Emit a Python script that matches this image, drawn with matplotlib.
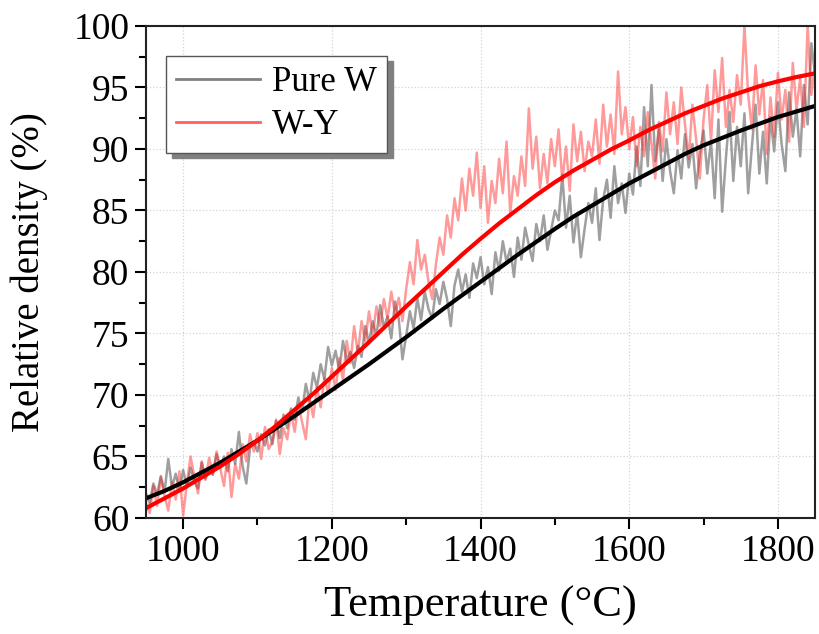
import numpy as np
import matplotlib.pyplot as plt
from matplotlib.ticker import MultipleLocator

plt.rcParams['font.family'] = ['Liberation Serif', 'DejaVu Serif']

# Temperature grid of the raw traces (every 5 C)
temps = np.arange(950, 1851, 5)

# Raw relative density readings
pure_w = [
    62.0, 61.2, 62.8, 61.9, 63.4, 62.1, 64.8, 62.5, 63.6, 62.2,
    63.9, 62.6, 64.1, 63.0, 62.4, 64.5, 63.2, 64.0, 63.5, 65.2,
    64.1, 65.0, 63.8, 65.6, 64.4, 67.0, 64.2, 62.8, 65.7, 66.2,
    65.4, 66.8, 65.9, 67.2, 66.0, 67.9, 66.5, 68.4, 67.3, 68.9,
    68.0, 69.8, 68.6, 70.9, 69.5, 71.8, 70.6, 72.5, 71.3, 73.9,
    72.4, 73.6, 72.0, 74.4, 72.8, 73.5, 72.2, 74.0, 73.1, 75.6,
    74.2, 76.0, 74.8, 77.3, 75.5, 76.4, 74.6, 77.6, 76.2, 72.9,
    74.8, 76.8, 75.4, 77.9, 76.1, 78.4, 77.0, 76.2, 78.6, 77.4,
    79.2, 77.8, 75.6, 78.9, 80.2, 78.4, 79.8, 77.9, 80.7, 79.5,
    81.2, 79.0, 80.4, 78.2, 81.6, 80.1, 82.5, 80.8, 81.9, 79.6,
    82.8, 81.0, 83.6, 82.2, 80.9, 83.9, 82.5, 84.6, 81.8, 83.4,
    85.0, 84.2, 87.9, 83.6, 86.2, 82.4, 84.8, 81.2, 83.5, 85.6,
    84.0, 86.8, 82.6, 85.9, 87.5, 84.4, 88.6, 85.6, 87.2, 84.8,
    88.0, 86.3, 90.2, 87.0, 93.4, 88.6, 95.2, 89.0, 91.6, 87.4,
    90.8, 88.2, 86.4, 89.9, 87.6, 91.2, 88.5, 90.4, 86.8, 89.6,
    91.5, 88.0, 90.6, 86.0, 92.4, 84.9, 89.2, 93.0, 87.4, 91.8,
    88.6, 92.9, 86.4, 90.2, 93.6, 88.0, 91.4, 87.2, 92.6, 89.8,
    93.8, 90.4, 88.2, 94.6, 91.0, 93.2, 89.4, 95.2, 92.0, 98.6,
    96.0,
]
w_y = [
    61.2, 60.4, 62.6, 61.0, 63.3, 61.8, 60.6, 62.9, 61.5, 63.8,
    60.2, 62.8, 65.0, 63.4, 62.0, 64.6, 63.1, 64.9, 63.6, 65.4,
    64.0, 62.6, 65.3, 61.7, 64.4, 63.2, 66.0, 64.6, 66.8, 65.4,
    66.9, 64.8, 67.4, 65.6, 66.2, 68.0, 65.2, 67.3, 66.4, 68.6,
    67.0, 69.2, 67.8, 66.4, 69.8, 68.2, 70.6, 69.0, 71.4, 70.2,
    72.2, 70.4, 73.0, 71.2, 74.4, 72.6, 75.6, 73.4, 76.0, 74.4,
    76.8, 74.8, 77.2, 75.6, 77.8, 76.2, 78.4, 76.6, 77.9, 76.0,
    78.6, 80.8, 79.0, 82.6, 80.2, 81.4, 79.2, 77.8, 80.6, 82.8,
    81.4, 84.6, 82.8, 86.0, 84.2, 87.6, 85.0, 88.4, 86.2, 89.7,
    85.2, 88.6, 84.0, 87.4, 85.6, 89.2, 86.4, 90.6, 84.8, 87.8,
    86.2, 89.4, 87.0, 93.3, 88.4, 91.0, 86.8, 89.6, 87.2, 90.8,
    88.6, 91.6, 87.4, 90.2, 86.6, 92.0, 89.0, 91.4, 88.2, 90.6,
    89.4, 92.4, 88.8, 93.6, 90.2, 92.8, 89.6, 96.3, 91.2, 93.4,
    90.0, 92.6, 88.6, 91.8, 89.4, 93.0, 90.4, 87.6, 92.2, 89.8,
    94.6, 91.2, 93.8, 90.4, 95.0, 92.0, 89.2, 93.6, 90.8, 87.6,
    92.4, 95.2, 90.6, 96.4, 93.0, 97.4, 91.8, 94.8, 92.2, 96.0,
    93.6, 100.0, 94.4, 91.6, 96.8, 92.8, 95.6, 89.6, 94.2, 91.0,
    96.2, 92.4, 94.8, 90.6, 97.0, 93.2, 95.8, 91.8, 100.0, 94.4,
    97.0,
]

# Fitted (smooth) curves, read every 25 C
fit_temps = np.arange(950, 1851, 25)
pure_w_fit = [61.6, 62.2, 62.9, 63.7, 64.5, 65.4, 66.3, 67.3, 68.3, 69.35,
              70.4, 71.45, 72.5, 73.6, 74.7, 75.85, 77.0, 78.1, 79.2, 80.3,
              81.4, 82.45, 83.5, 84.5, 85.4, 86.3, 87.2, 88.0, 88.8, 89.6,
              90.3, 90.9, 91.5, 92.05, 92.6, 93.05, 93.5]
w_y_fit = [60.8, 61.6, 62.4, 63.3, 64.2, 65.2, 66.3, 67.5, 68.8, 70.1,
           71.5, 72.9, 74.3, 75.75, 77.2, 78.6, 80.0, 81.4, 82.7, 83.95,
           85.1, 86.25, 87.3, 88.25, 89.1, 89.95, 90.7, 91.5, 92.2, 92.9,
           93.5, 94.1, 94.6, 95.1, 95.5, 95.85, 96.15]

fig = plt.figure(figsize=(8.2, 6.34), dpi=100)
ax = fig.add_axes([0.178, 0.183, 0.816, 0.776])

ax.plot(temps, pure_w, color='#7f7f7f', alpha=0.75, lw=1.8, label='Pure W')
ax.plot(temps, w_y, color='#ff2020', alpha=0.45, lw=1.8, label='W-Y')
ax.plot(fit_temps, pure_w_fit, color='black', lw=3)
ax.plot(fit_temps, w_y_fit, color='#ff0000', lw=3)

ax.set_xlim(950, 1850)
ax.set_ylim(60, 100)
ax.xaxis.set_major_locator(MultipleLocator(200))
ax.xaxis.set_minor_locator(MultipleLocator(100))
ax.yaxis.set_major_locator(MultipleLocator(5))
ax.yaxis.set_minor_locator(MultipleLocator(2.5))
ax.tick_params(which='major', direction='out', length=8, width=1.5,
               labelsize=27, colors='black', pad=4)
ax.tick_params(which='minor', direction='out', length=5, width=1.5)
ax.grid(True, which='major', linestyle=':', color='#d4d4d4', lw=0.9)
for s in ax.spines.values():
    s.set_linewidth(1.5)
    s.set_color('#222222')

ax.set_xlabel('Temperature (°C)', fontsize=32, labelpad=12)
ax.set_ylabel('Relative density (%)', fontsize=28, labelpad=18)

leg = ax.legend(loc='upper left', bbox_to_anchor=(0.03, 0.94), borderaxespad=0,
                fontsize=25, frameon=True, fancybox=False,
                shadow={'ox': 4, 'oy': -4, 'color': '#808080', 'alpha': 1.0},
                handlelength=2.4, handletextpad=0.35, borderpad=0.3,
                labelspacing=0.3)
leg.get_frame().set_edgecolor('#555555')
leg.get_frame().set_linewidth(1.0)
for h in leg.get_lines():
    h.set_alpha(1.0)
    h.set_linewidth(2)
leg.get_lines()[0].set_color('#808080')
leg.get_lines()[1].set_color('#ff6060')

fig.savefig('out.png', dpi=100)
